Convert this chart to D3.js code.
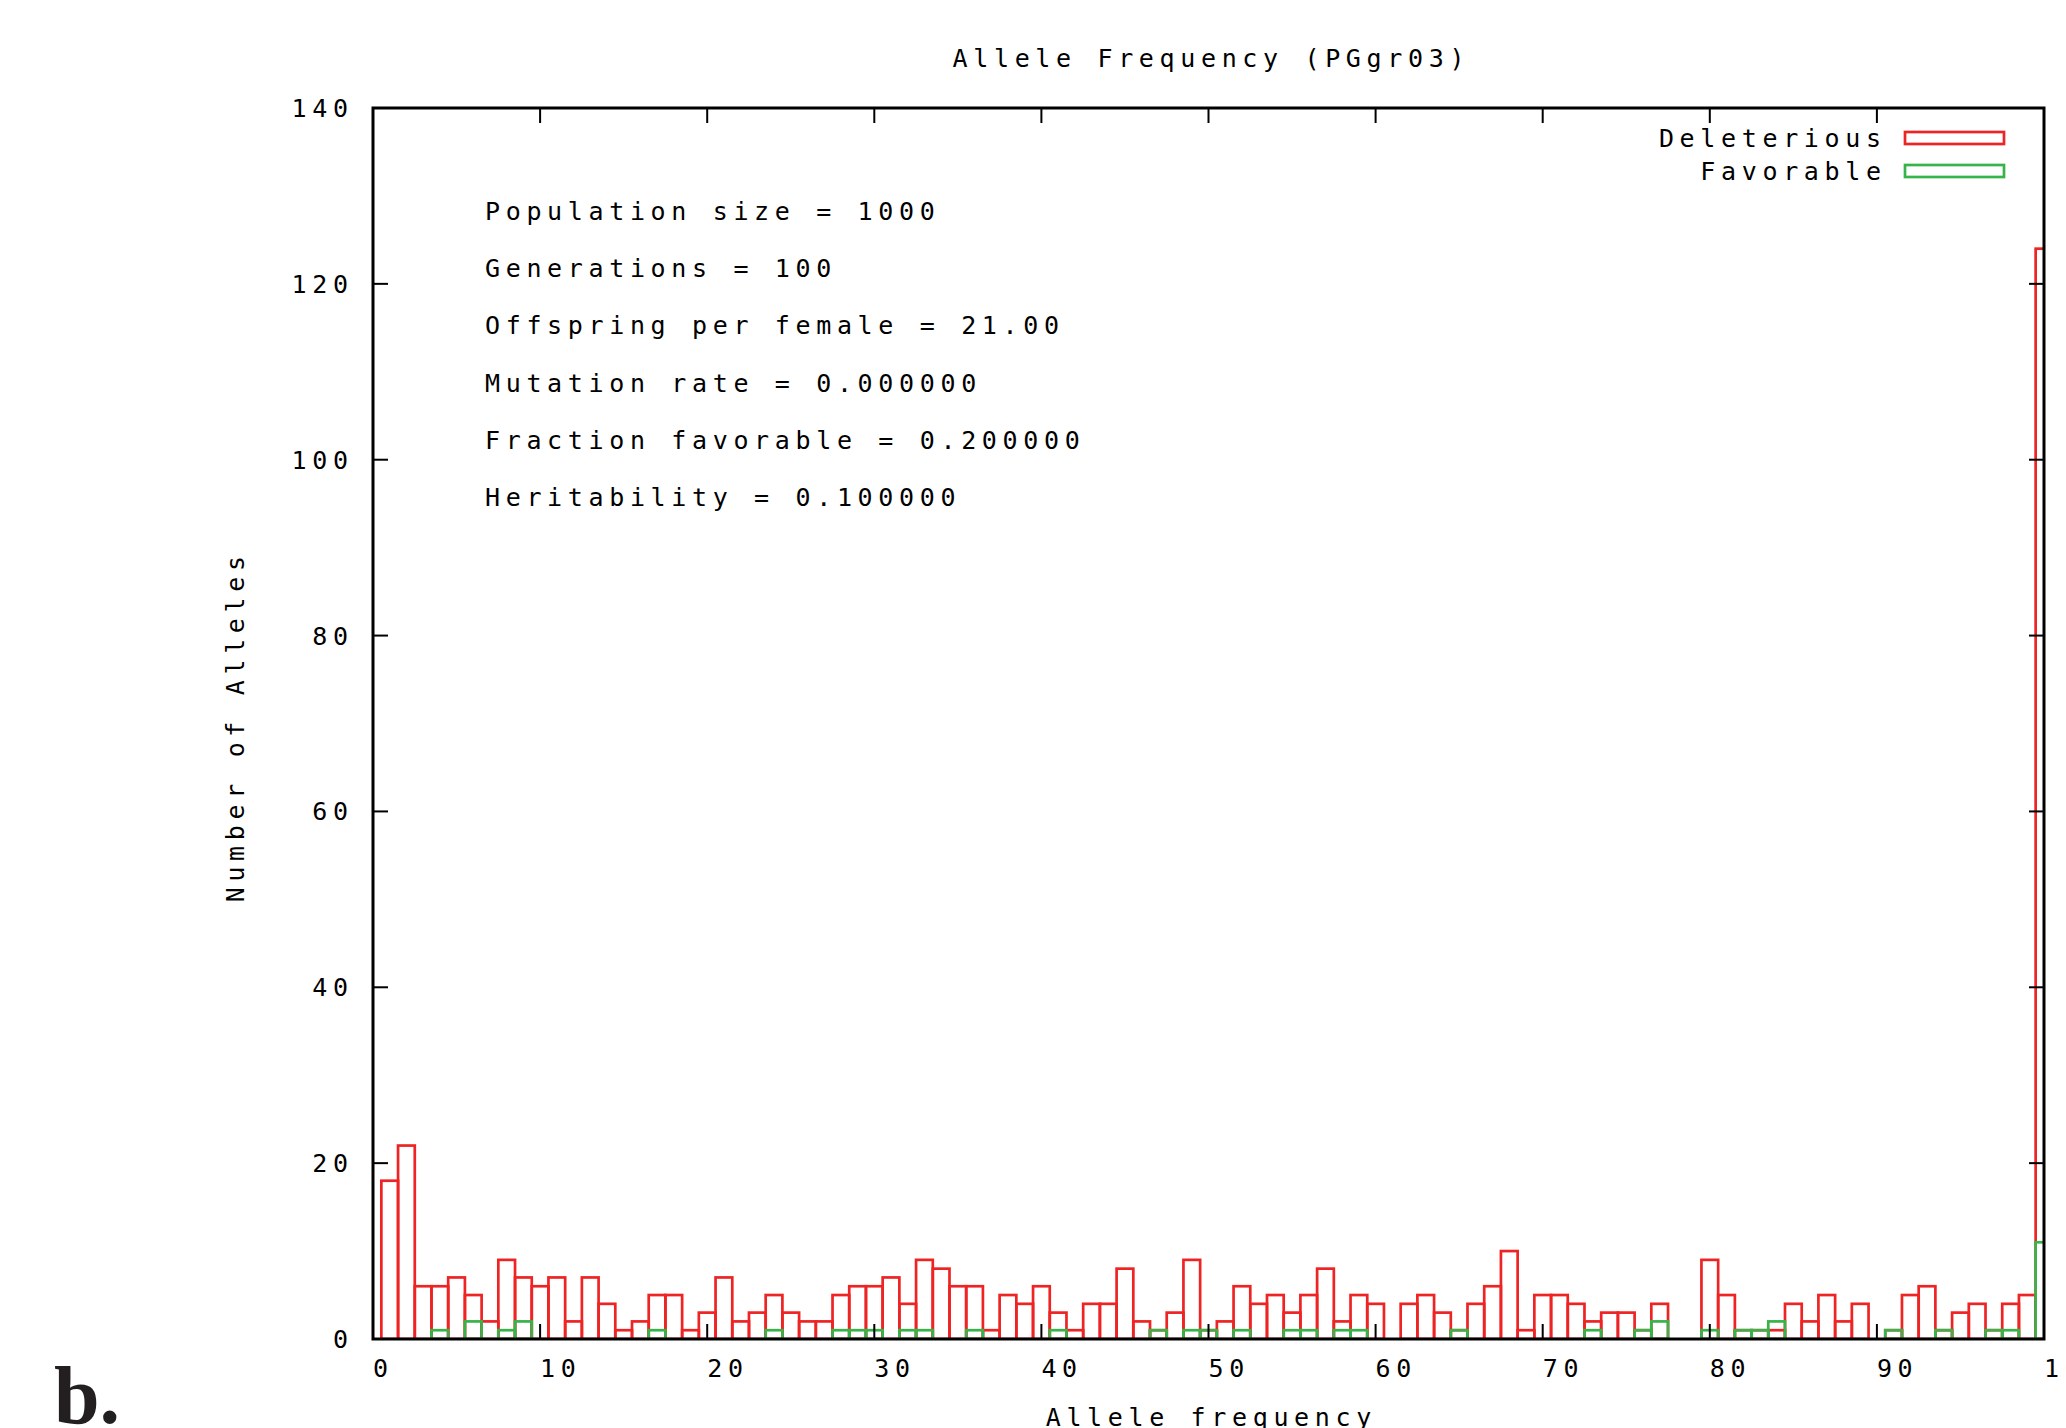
<!DOCTYPE html>
<html>
<head>
<meta charset="utf-8">
<script src="https://cdn.jsdelivr.net/npm/d3@7"></script>
<style>
  body { margin: 0; background: #fff; }
  text { font-family: "DejaVu Sans Mono", monospace; font-size: 25px; letter-spacing: 5.65px; fill: #000; }
</style>
</head>
<body>
<div id="chart"></div>
<script>
// Bin centres (allele frequency, %) and counts
var bins = d3.range(1, 101);
var deleterious = [18, 22, 6, 6, 7, 5, 2, 9, 7, 6,
                   7, 2, 7, 4, 1, 2, 5, 5, 1, 3,
                   7, 2, 3, 5, 3, 2, 2, 5, 6, 6,
                   7, 4, 9, 8, 6, 6, 1, 5, 4, 6,
                   3, 1, 4, 4, 8, 2, 1, 3, 9, 1,
                   2, 6, 4, 5, 3, 5, 8, 2, 5, 4,
                   0, 4, 5, 3, 1, 4, 6, 10, 1, 5,
                   5, 4, 2, 3, 3, 1, 4, 0, 0, 9,
                   5, 1, 1, 1, 4, 2, 5, 2, 4, 0,
                   1, 5, 6, 1, 3, 4, 1, 4, 5, 124];
var favorable = [0, 0, 0, 1, 0, 2, 0, 1, 2, 0,
                 0, 0, 0, 0, 0, 0, 1, 0, 0, 0,
                 0, 0, 0, 1, 0, 0, 0, 1, 1, 1,
                 0, 1, 1, 0, 0, 1, 0, 0, 0, 0,
                 1, 0, 0, 0, 0, 0, 1, 0, 1, 1,
                 0, 1, 0, 0, 1, 1, 0, 1, 1, 0,
                 0, 0, 0, 0, 1, 0, 0, 0, 0, 0,
                 0, 0, 1, 0, 0, 1, 2, 0, 0, 1,
                 0, 1, 1, 2, 0, 0, 0, 0, 0, 0,
                 1, 0, 0, 1, 0, 0, 1, 1, 0, 11];
var xTicks = d3.range(0, 101, 10);
var yTicks = d3.range(0, 141, 20);
var notes = ["Population size = 1000",
             "Generations = 100",
             "Offspring per female = 21.00",
             "Mutation rate = 0.000000",
             "Fraction favorable = 0.200000",
             "Heritability = 0.100000"];
var series = [
  { name: "Deleterious", values: deleterious, color: "#ee2424" },
  { name: "Favorable", values: favorable, color: "#36b44a" }
];

var W = 2066, H = 1428;
var margin = { top: 108, right: 22, bottom: 89, left: 373 };
var LS = 5.65; // letter spacing, for anchor compensation

var svg = d3.select("#chart").append("svg")
  .attr("width", W).attr("height", H);

var x = d3.scaleLinear().domain([0, 100]).range([margin.left, W - margin.right]);
var y = d3.scaleLinear().domain([0, 140]).range([H - margin.bottom, margin.top]);

svg.append("clipPath").attr("id", "plotclip")
  .append("rect")
  .attr("x", x(0)).attr("y", y(140))
  .attr("width", x(100) - x(0)).attr("height", y(0) - y(140));

// Boxes, one outline per bin
series.forEach(function (s) {
  svg.append("g")
    .attr("clip-path", "url(#plotclip)")
    .selectAll("rect")
    .data(bins.filter(function (b, i) { return s.values[i] > 0; }))
    .enter()
    .append("rect")
    .attr("x", function (b) { return x(b - 0.5); })
    .attr("width", function (b) { return x(b + 0.5) - x(b - 0.5); })
    .attr("y", function (b) { return y(s.values[b - 1]); })
    .attr("height", function (b) { return y(0) - y(s.values[b - 1]); })
    .attr("fill", "none")
    .attr("stroke", s.color)
    .attr("stroke-width", 2.7);
});

// Ticks on all four sides, pointing inward
var tl = 15;
var tg = svg.append("g").attr("stroke", "#000").attr("stroke-width", 2);
xTicks.forEach(function (t) {
  tg.append("line").attr("x1", x(t)).attr("x2", x(t)).attr("y1", y(0)).attr("y2", y(0) - tl);
  tg.append("line").attr("x1", x(t)).attr("x2", x(t)).attr("y1", y(140)).attr("y2", y(140) + tl);
});
yTicks.forEach(function (t) {
  tg.append("line").attr("x1", x(0)).attr("x2", x(0) + tl).attr("y1", y(t)).attr("y2", y(t));
  tg.append("line").attr("x1", x(100)).attr("x2", x(100) - tl).attr("y1", y(t)).attr("y2", y(t));
});

// Border
svg.append("rect")
  .attr("x", x(0)).attr("y", y(140))
  .attr("width", x(100) - x(0)).attr("height", y(0) - y(140))
  .attr("fill", "none").attr("stroke", "#000").attr("stroke-width", 3);

// Tick labels
svg.selectAll(".xlab").data(xTicks).enter().append("text")
  .attr("class", "xlab")
  .attr("x", function (t) { return x(t); })
  .attr("y", y(0) + 38)
  .text(function (t) { return t; });

svg.selectAll(".ylab").data(yTicks).enter().append("text")
  .attr("class", "ylab")
  .attr("x", x(0) - 25 + LS)
  .attr("y", function (t) { return y(t) + 9; })
  .attr("text-anchor", "end")
  .text(function (t) { return t; });

// Titles
var cx = (x(0) + x(100)) / 2;
svg.append("text").attr("x", cx + LS / 2).attr("y", 67)
  .attr("text-anchor", "middle").text("Allele Frequency (PGgr03)");
svg.append("text").attr("x", cx + LS / 2).attr("y", 1426)
  .attr("text-anchor", "middle").text("Allele frequency");
svg.append("text")
  .attr("transform", "translate(244," + ((y(0) + y(140)) / 2 + LS / 2) + ") rotate(-90)")
  .attr("text-anchor", "middle").text("Number of Alleles");

// Run parameters
svg.selectAll(".note").data(notes).enter().append("text")
  .attr("class", "note")
  .attr("x", 485)
  .attr("y", function (d, i) { return 220 + i * 57.2; })
  .text(function (d) { return d; });

// Legend
series.forEach(function (s, i) {
  var ly = 147 + i * 33;
  svg.append("text").attr("x", 1881 + LS).attr("y", ly)
    .attr("text-anchor", "end").text(s.name);
  svg.append("rect")
    .attr("x", 1905).attr("y", ly - 15)
    .attr("width", 99).attr("height", 12)
    .attr("fill", "none").attr("stroke", s.color).attr("stroke-width", 2.7);
});

// Panel letter
svg.append("text")
  .attr("x", 54).attr("y", 1423)
  .style("font-family", "'Liberation Serif', 'Times New Roman', serif")
  .style("font-weight", "bold")
  .style("font-size", "82px")
  .style("letter-spacing", "0px")
  .style("fill", "#231f20")
  .text("b.");
</script>
</body>
</html>
